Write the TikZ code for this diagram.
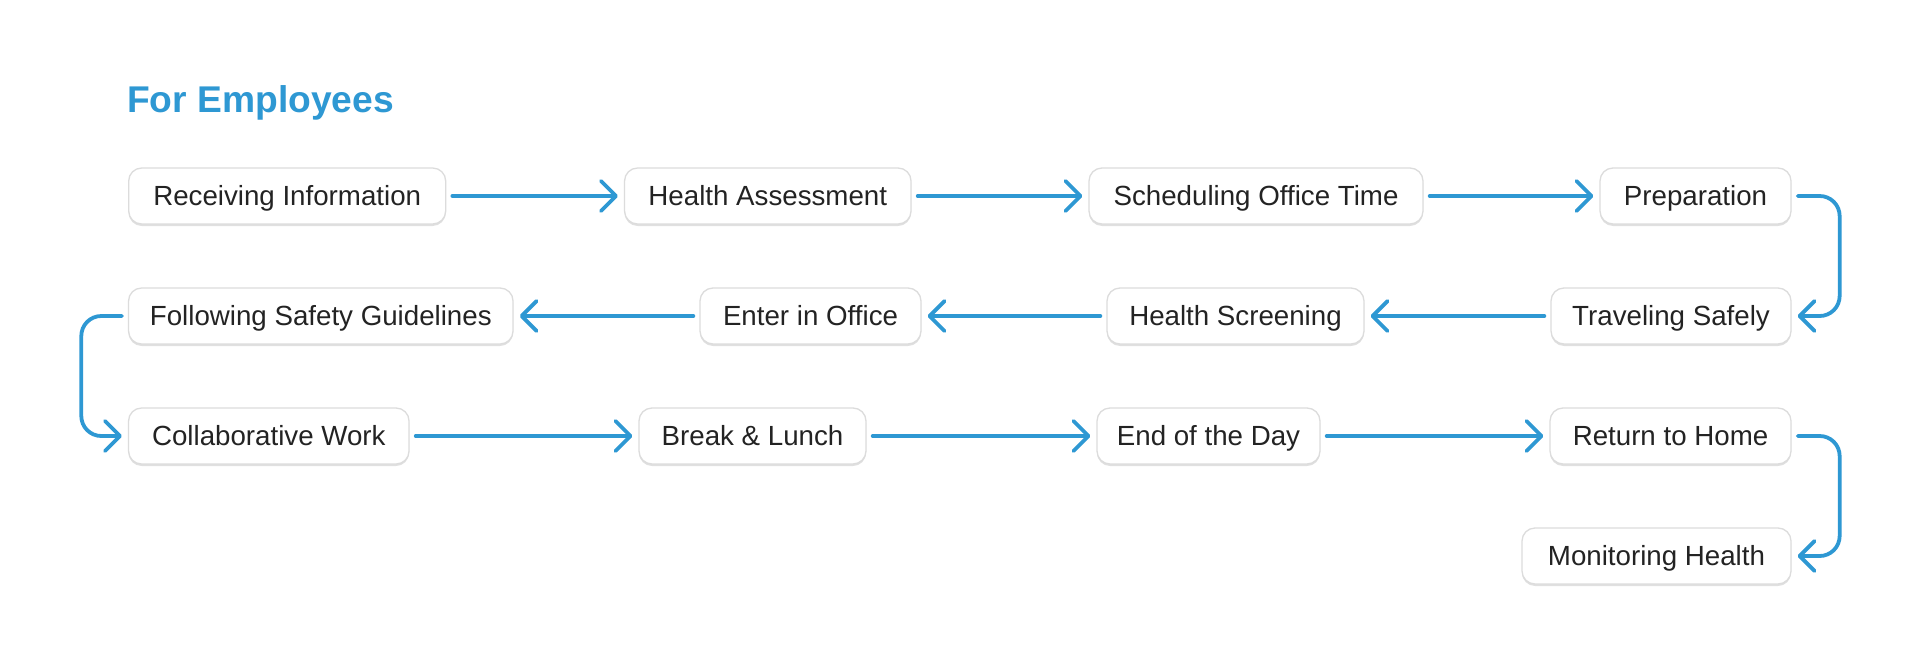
\documentclass[tikz,border=0pt]{standalone}
\usepackage{fontspec}
\setmainfont{Liberation Sans}
\usetikzlibrary{arrows.meta,shadows}
\definecolor{flowblue}{HTML}{2E98D3}
\definecolor{txt}{HTML}{232323}
\definecolor{boxline}{HTML}{DCDCDC}
\begin{document}
\begin{tikzpicture}[x=1pt,y=-1pt,
  stepbox/.style={draw=boxline, line width=1.3pt, rounded corners=13pt, fill=white,
    minimum height=56pt, inner sep=0pt, text=txt, text height=19.8pt, text depth=0pt,
    font=\fontsize{27.7}{30}\selectfont,
    drop shadow={shadow xshift=0pt, shadow yshift=-2pt, opacity=0.12, fill=black}},
  flow/.style={draw=flowblue, line width=3.8pt, line cap=round, rounded corners=20pt,
    -{Straight Barb[length=15pt,width=30pt,line cap=round,line join=round]},
    shorten >=6pt, shorten <=6pt}]
\fill[white] (0,0) rectangle (1920,656);
\useasboundingbox (0,0) rectangle (1920,656);

\node[anchor=base west, text=flowblue, inner sep=0pt,
  font=\fontsize{37.2}{40}\selectfont\bfseries] (title) at (127,112) {For Employees};

% row 1
\node[stepbox, minimum width=317pt]   (rec)  at (287.2,196) {Receiving Information};
\node[stepbox, minimum width=286.5pt] (ha)   at (767.8,196) {Health Assessment};
\node[stepbox, minimum width=334pt]   (sch)  at (1256,196)  {Scheduling Office Time};
\node[stepbox, minimum width=191pt]   (prep) at (1695.5,196) {Preparation};
% row 2
\node[stepbox, minimum width=384.5pt] (fol)  at (320.8,316) {Following Safety Guidelines};
\node[stepbox, minimum width=221pt]   (ent)  at (810.5,316) {Enter in Office};
\node[stepbox, minimum width=257pt]   (hs)   at (1235.5,316) {Health Screening};
\node[stepbox, minimum width=240pt]   (trav) at (1671,316)  {Traveling Safely};
% row 3
\node[stepbox, minimum width=280.5pt] (col)  at (268.8,436) {Collaborative Work};
\node[stepbox, minimum width=227pt]   (brk)  at (752.5,436) {Break \& Lunch};
\node[stepbox, minimum width=223pt]   (eod)  at (1208.5,436) {End of the Day};
\node[stepbox, minimum width=241pt]   (ret)  at (1670.5,436) {Return to Home};
% row 4
\node[stepbox, minimum width=269pt]   (mon)  at (1656.5,556) {Monitoring Health};

% connectors
\draw[flow] (rec.east) -- (ha.west);
\draw[flow] (ha.east) -- (sch.west);
\draw[flow] (sch.east) -- (prep.west);
\draw[flow] (prep.east) -- ++(48,0) |- (trav.east);
\draw[flow] (trav.west) -- (hs.east);
\draw[flow] (hs.west) -- (ent.east);
\draw[flow] (ent.west) -- (fol.east);
\draw[flow] (fol.west) -- ++(-46.6,0) |- (col.west);
\draw[flow] (col.east) -- (brk.west);
\draw[flow] (brk.east) -- (eod.west);
\draw[flow] (eod.east) -- (ret.west);
\draw[flow] (ret.east) -- ++(48,0) |- (mon.east);
\end{tikzpicture}
\end{document}
